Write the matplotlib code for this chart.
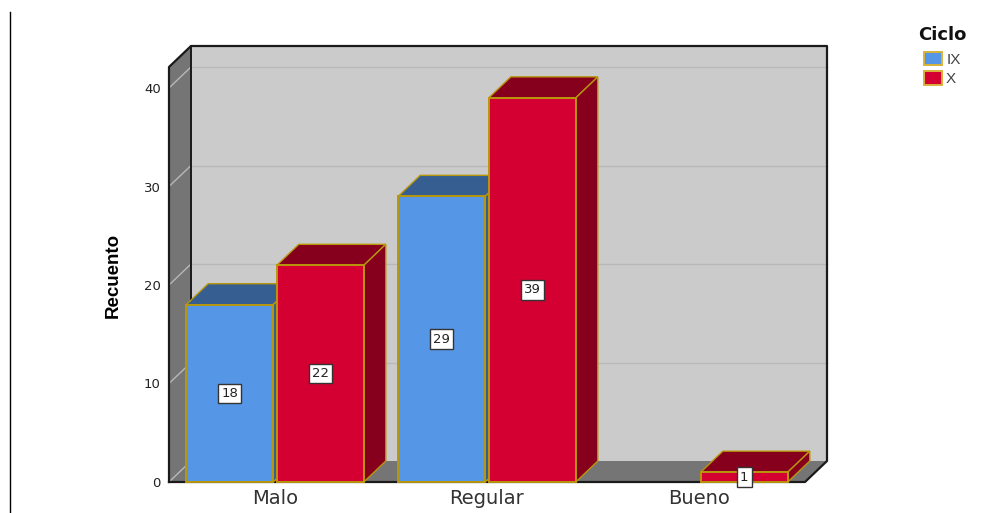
#!/usr/bin/env python3
import matplotlib
matplotlib.use("Agg")
import matplotlib.pyplot as plt
from matplotlib.patches import Patch, Polygon
from matplotlib.lines import Line2D

plt.rcParams["font.family"] = ["Liberation Sans", "DejaVu Sans"]

# Data
categories = ["Malo", "Regular", "Bueno"]
series_names = ["IX", "X"]
values_ix = [18, 29, None]
values_x = [22, 39, 1]
y_ticks = [0, 10, 20, 30, 40]

# Colours
FACE = {"IX": "#5596E6", "X": "#D50032"}
TOP = {"IX": "#365E91", "X": "#86001E"}
SIDE = {"IX": "#365E91", "X": "#86001E"}
EDGE = "#B8960C"
WALL = "#CBCBCB"
DARK_WALL = "#757575"
GRID = "#B8B8B8"

W, H = 981, 513
fig = plt.figure(figsize=(W / 100, H / 100), dpi=100)

# Front plane of the 3D box, in pixels of the picture
left, right, bottom, top = 169, 805, 482, 67
ax = fig.add_axes([left / W, 1 - bottom / H, (right - left) / W, (bottom - top) / H])
ax.set_xlim(-0.5, 2.5)
ax.set_ylim(0, (bottom - top) / 9.85)
ax.patch.set_visible(False)
for s in ax.spines.values():
    s.set_visible(False)

# Depth of the box in data units
dx = 22 / 212
dy = 21 / 9.85
x0, x1 = ax.get_xlim()
y1 = ax.get_ylim()[1]


def poly(pts, face, edge="none", lw=0.0, z=1):
    ax.add_patch(Polygon(pts, closed=True, facecolor=face, edgecolor=edge,
                         linewidth=lw, zorder=z, clip_on=False, joinstyle="miter"))


def line(xs, ys, color="#1A1A1A", lw=1.6, z=3):
    ax.add_line(Line2D(xs, ys, color=color, linewidth=lw, zorder=z, clip_on=False))


# Walls and floor
poly([(x0 + dx, dy), (x1 + dx, dy), (x1 + dx, y1 + dy), (x0 + dx, y1 + dy)], WALL)
poly([(x0, 0), (x0 + dx, dy), (x0 + dx, y1 + dy), (x0, y1)], DARK_WALL)
poly([(x0, 0), (x1, 0), (x1 + dx, dy), (x0 + dx, dy)], DARK_WALL)

for t in y_ticks[1:]:
    line([x0 + dx, x1 + dx], [t + dy, t + dy], GRID, 1.0, 2)
    line([x0, x0 + dx], [t, t + dy], GRID, 1.0, 2)

# Box outline
line([x0, x0, x0 + dx, x1 + dx, x1 + dx, x1, x0],
     [0, y1, y1 + dy, y1 + dy, dy, 0, 0])
line([x0 + dx, x0 + dx], [y1 + dy, dy], "#1A1A1A", 1.4)
line([x0, x0 + dx], [0, dy], GRID, 1.0, 2)

# Bars
bar_w = 87 / 212
offset = 45.3 / 212


def bar3d(xc, val, name, z):
    xa, xb = xc - bar_w / 2, xc + bar_w / 2
    poly([(xa, val), (xb, val), (xb + dx, val + dy), (xa + dx, val + dy)],
         TOP[name], EDGE, 1.0, z)
    poly([(xb, 0), (xb + dx, dy), (xb + dx, val + dy), (xb, val)],
         SIDE[name], EDGE, 1.0, z)
    poly([(xa, 0), (xb, 0), (xb, val), (xa, val)], FACE[name], EDGE, 1.4, z + 0.1)
    ax.text(xc, val / 2, str(val), ha="center", va="center", fontsize=9.5,
            family="DejaVu Sans", color="#222222", zorder=20,
            bbox=dict(boxstyle="square,pad=0.25", facecolor="white",
                      edgecolor="#333333", linewidth=1.0))


z = 5
for i, cat in enumerate(categories):
    if values_ix[i] is not None:
        bar3d(i - offset, values_ix[i], "IX", z)
    z += 1
    if values_x[i] is not None:
        bar3d(i + offset, values_x[i], "X", z)
    z += 1

# Axis text
ax.set_xticks(range(len(categories)))
ax.set_xticklabels(categories, fontsize=14, color="#333333", family="DejaVu Sans")
ax.set_yticks(y_ticks)
ax.set_yticklabels([str(t) for t in y_ticks], fontsize=9.5, color="#222222",
                   family="DejaVu Sans")
ax.tick_params(axis="both", length=0)
ax.tick_params(axis="x", pad=5)
ax.tick_params(axis="y", pad=6)
fig.text(113 / W, 1 - 275 / H, "Recuento", rotation=90, ha="center", va="center",
         fontsize=13.5, fontweight="bold", color="black", family="Liberation Sans")

# Legend
handles = [Patch(facecolor=FACE[n], edgecolor="#D8B33A", linewidth=1.4, label=n)
           for n in series_names]
fig.legend(handles=handles, loc="upper left",
           bbox_to_anchor=(924 / W, 1 - 52 / H), frameon=False, fontsize=11,
           handlelength=1.15, handleheight=0.95, handletextpad=0.3,
           labelspacing=0.3, borderpad=0, borderaxespad=0,
           labelcolor="#444444")
fig.text(942 / W, 1 - 35 / H, "Ciclo", ha="center", va="center", fontsize=13,
         fontweight="bold", family="DejaVu Sans", color="#111111")

# Stray vertical rule at the left of the picture
fig.add_artist(Line2D([10 / W, 10 / W], [0, 1 - 12 / H], color="black", linewidth=1.0))

fig.savefig("out.png", dpi=100, facecolor="white")
